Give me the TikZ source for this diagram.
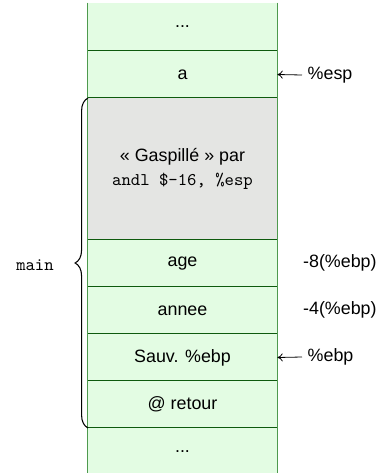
\documentclass[tikz,border=0pt]{standalone}
\usepackage{fontspec}
\setmainfont{Liberation Sans}
\setmonofont{Latin Modern Mono}
\usetikzlibrary{decorations.pathreplacing,arrows.meta}
\definecolor{cellgreen}{HTML}{E3FCE3}
\definecolor{cellgray}{HTML}{E4E5E3}
\definecolor{hlinec}{HTML}{0E5A0E}
\definecolor{vlinec}{HTML}{4E9A4E}
\begin{document}
\begin{tikzpicture}[x=0.56pt,y=-0.56pt,
  cell/.style={fill=cellgreen, inner sep=0pt, minimum width=105.84pt, font=\fontsize{10}{12}\selectfont},
  grey/.style={cell, fill=cellgray},
  lab/.style={anchor=west, inner sep=1pt, font=\fontsize{10}{12}\selectfont},
  plab/.style={lab, inner sep=3pt},
  sep/.style={draw=hlinec, line width=0.6pt},
  side/.style={draw=vlinec, line width=0.6pt},
  ptr/.style={-{To[length=3pt,width=4.5pt]}, line width=0.45pt}]
\useasboundingbox (0,0) rectangle (376,473);
% cells
\node[cell, minimum height=26.88pt] (top) at (182.5,27) {...};
\node[cell, minimum height=26.32pt] (a) at (182.5,74.5) {a};
\node[grey, minimum height=79.52pt, align=center] (waste) at (182.5,169)
  {« Gaspillé » par\\[1pt]\texttt{andl \$-16, \%esp}};
\node[cell, minimum height=26.32pt] (age) at (182.5,263.5) {age};
\node[cell, minimum height=26.32pt] (annee) at (182.5,310.5) {annee};
\node[cell, minimum height=26.32pt] (sauv) at (182.5,357.5) {Sauv. \%ebp};
\node[cell, minimum height=26.32pt] (ret) at (182.5,404.5) {@ retour};
\node[cell, minimum height=26.88pt] (bot) at (182.5,452) {...};
% separators
\foreach \n in {a,waste,age,annee,sauv,ret,bot}
  \draw[sep] (\n.north west) -- (\n.north east);
\draw[side] (top.north west) -- (bot.south west);
\draw[side] (top.north east) -- (bot.south east);
% right labels
\node[plab] (esp) at (302,75) {\%esp};
\draw[ptr] (esp.west) -- (a.east);
\node[lab] (m8) at (301,263) {-8(\%ebp)};
\node[lab] (m4) at (301,310) {-4(\%ebp)};
\node[plab] (ebp) at (302,357) {\%ebp};
\draw[ptr] (ebp.west) -- (sauv.east);
% brace
\coordinate (bb) at (88,428);
\coordinate (bt) at (88,98);
\draw[decorate, decoration={brace, amplitude=7.2pt}, line width=0.6pt] (bb) -- (bt);
\node[font=\fontsize{10}{12}\selectfont\ttfamily, inner sep=0pt] (main) at (35,265) {main};
\end{tikzpicture}
\end{document}
